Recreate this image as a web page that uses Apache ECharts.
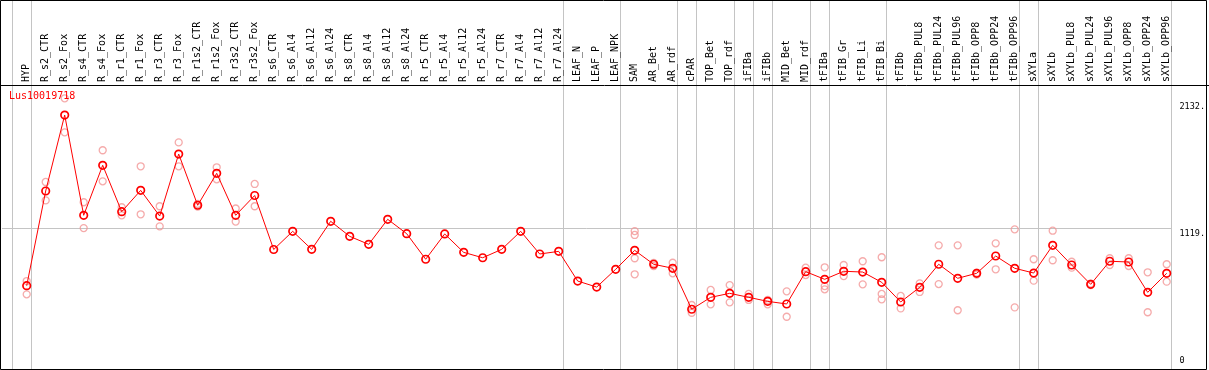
<!DOCTYPE html>
<html>
<head>
<meta charset="utf-8">
<script src="https://cdn.jsdelivr.net/npm/echarts@6/dist/echarts.min.js"></script>
<style>
html,body{margin:0;padding:0;background:#fff;}
#c{width:1209px;height:370px;}
</style>
</head>
<body>
<div id="c"></div>
<script>
const categories = ["HYP","R_s2_CTR","R_s2_Fox","R_s4_CTR","R_s4_Fox","R_r1_CTR","R_r1_Fox","R_r3_CTR","R_r3_Fox","R_r1s2_CTR","R_r1s2_Fox","R_r3s2_CTR","R_r3s2_Fox","R_s6_CTR","R_s6_Al4","R_s6_Al12","R_s6_Al24","R_s8_CTR","R_s8_Al4","R_s8_Al12","R_s8_Al24","R_r5_CTR","R_r5_Al4","R_r5_Al12","R_r5_Al24","R_r7_CTR","R_r7_Al4","R_r7_Al12","R_r7_Al24","LEAF_N","LEAF_P","LEAF_NPK","SAM","AR_Bet","AR_rdf","cPAR","TOP_Bet","TOP_rdf","iFIBa","iFIBb","MID_Bet","MID_rdf","tFIBa","tFIB_Gr","tFIB_Li","tFIB_Bi","tFIBb","tFIBb_PUL8","tFIBb_PUL24","tFIBb_PUL96","tFIBb_OPP8","tFIBb_OPP24","tFIBb_OPP96","sXYLa","sXYLb","sXYLb_PUL8","sXYLb_PUL24","sXYLb_PUL96","sXYLb_OPP8","sXYLb_OPP24","sXYLb_OPP96"];

const means = [661,1417,2023,1223,1622,1252,1422,1217,1712,1303,1558,1223,1381,950,
1095,951,1175,1055,991,1191,1076,872,1074,927,884,951,1095,914,935,
698,650,792,943,832,800,473,568,600,568,536,515,773,712,776,770,688,
531,648,832,720,760,898,800,762,983,826,672,856,850,608,760];

const rep1 = [698,1489,2157,1327,1742,1287,1614,1295,1805,1313,1606,1277,1473,
null,null,null,null,null,null,null,null,null,null,null,null,null,null,null,null,null,null,null,
1097,842,844,507,627,666,595,547,616,805,808,826,856,888,
579,680,983,983,765,999,1111,872,1100,852,678,880,880,768,832];

const rep2 = [592,1342,1885,1121,1494,1223,1231,1135,1614,1293,1510,1173,1295,
null,null,null,null,null,null,null,null,null,null,null,null,null,null,null,null,null,null,null,
1066,818,760,445,512,528,547,512,413,746,658,738,672,595,
480,611,674,465,749,792,488,701,864,805,666,826,818,449,693];

const rep3 = [null,null,null,null,null,null,null,null,null,null,null,null,null,
null,null,null,null,null,null,null,null,null,null,null,null,null,null,null,null,null,null,null,
880,null,null,null,null,null,null,null,null,null,632,null,null,552,
null,null,null,null,null,null,null,null,null,null,null,null,null,null,null];

const rep4 = [null,null,null,null,null,null,null,null,null,null,null,null,null,
null,null,null,null,null,null,null,null,null,null,null,null,null,null,null,null,null,null,null,
752,null,null,null,null,null,null,null,null,null,null,null,null,null,
null,null,null,null,null,null,null,null,null,null,null,null,null,null,null];

// index of the last category of each group (separators drawn after them)
const groupEnds = [-1,0,28,31,34,35,37,38,39,41,42,45,52,53,60];
const yTickValues = [2132,1119,0];
const yTickLabels = ["2132.","1119.","0"];
const geneName = "Lus10019718";
const yMax = 2263;

const MONO = "DejaVu Sans Mono";
const repData = [];
[rep1,rep2,rep3,rep4].forEach(function(r){
  r.forEach(function(v,i){ if(v!==null) repData.push([i,v]); });
});

const chart = echarts.init(document.getElementById('c'), null, {renderer:'canvas'});
const option = {
  animation:false,
  backgroundColor:'#fff',
  title:{text:geneName,left:9,top:91,padding:0,textStyle:{color:'#ff0000',fontSize:10,fontFamily:MONO,fontWeight:'normal'}},
  grid:{left:17.2,width:1159,top:85,bottom:1.5},
  xAxis:{type:'category',data:categories,position:'top',boundaryGap:true,
    axisLine:{show:false},axisTick:{show:false},splitLine:{show:false},
    axisLabel:{interval:0,rotate:90,margin:3,fontSize:10,fontFamily:MONO,color:'#000'}},
  yAxis:{type:'value',min:0,max:yMax,show:false,splitLine:{show:false}},
  series:[
    {type:'scatter',data:repData,symbol:'circle',symbolSize:7,z:2,
     itemStyle:{color:'rgba(0,0,0,0)',borderColor:'#f29696',borderWidth:1.3}},
    {type:'line',data:means,symbol:'circle',symbolSize:7.5,z:3,showSymbol:true,
     lineStyle:{color:'#ff0000',width:1},
     itemStyle:{color:'rgba(0,0,0,0)',borderColor:'#ff0000',borderWidth:1.7}}
  ]
};
chart.setOption(option);

const px = function(i){ return chart.convertToPixel({xAxisIndex:0}, i); };
const py = function(v){ return chart.convertToPixel({yAxisIndex:0}, v); };
const step = px(1)-px(0);
const W = 1209, H = 370;
const els = [];
groupEnds.forEach(function(g){
  const x = Math.round(px(0) + step*(g + 0.21)) + 0.5;
  els.push({type:'line',z:0,shape:{x1:x,y1:0,x2:x,y2:H},style:{stroke:'#c4c4c4',lineWidth:1}});
});
const lastSep = Math.round(px(0) + step*(groupEnds[groupEnds.length-1] + 0.21)) + 0.5;
const gy = Math.round(py(1119)) + 0.5;
els.push({type:'line',z:0,shape:{x1:2,y1:gy,x2:lastSep,y2:gy},style:{stroke:'#c4c4c4',lineWidth:1}});
els.push({type:'line',z:1,shape:{x1:0,y1:85.5,x2:W,y2:85.5},style:{stroke:'#000',lineWidth:1}});
els.push({type:'rect',z:1,shape:{x:0.5,y:0.5,width:1206,height:369},style:{fill:null,stroke:'#000',lineWidth:1}});
yTickValues.forEach(function(v,k){
  const y = py(v);
  const isBottom = v===0;
  els.push({type:'text',z:4,x:lastSep+8,y: isBottom ? y-3 : y+1,
    style:{text:yTickLabels[k],fill:'#000',font:'8.5px "'+MONO+'"',textAlign:'left',textVerticalAlign: isBottom ? 'bottom':'top'}});
});
chart.setOption({graphic:{elements:els}});
</script>
</body>
</html>
